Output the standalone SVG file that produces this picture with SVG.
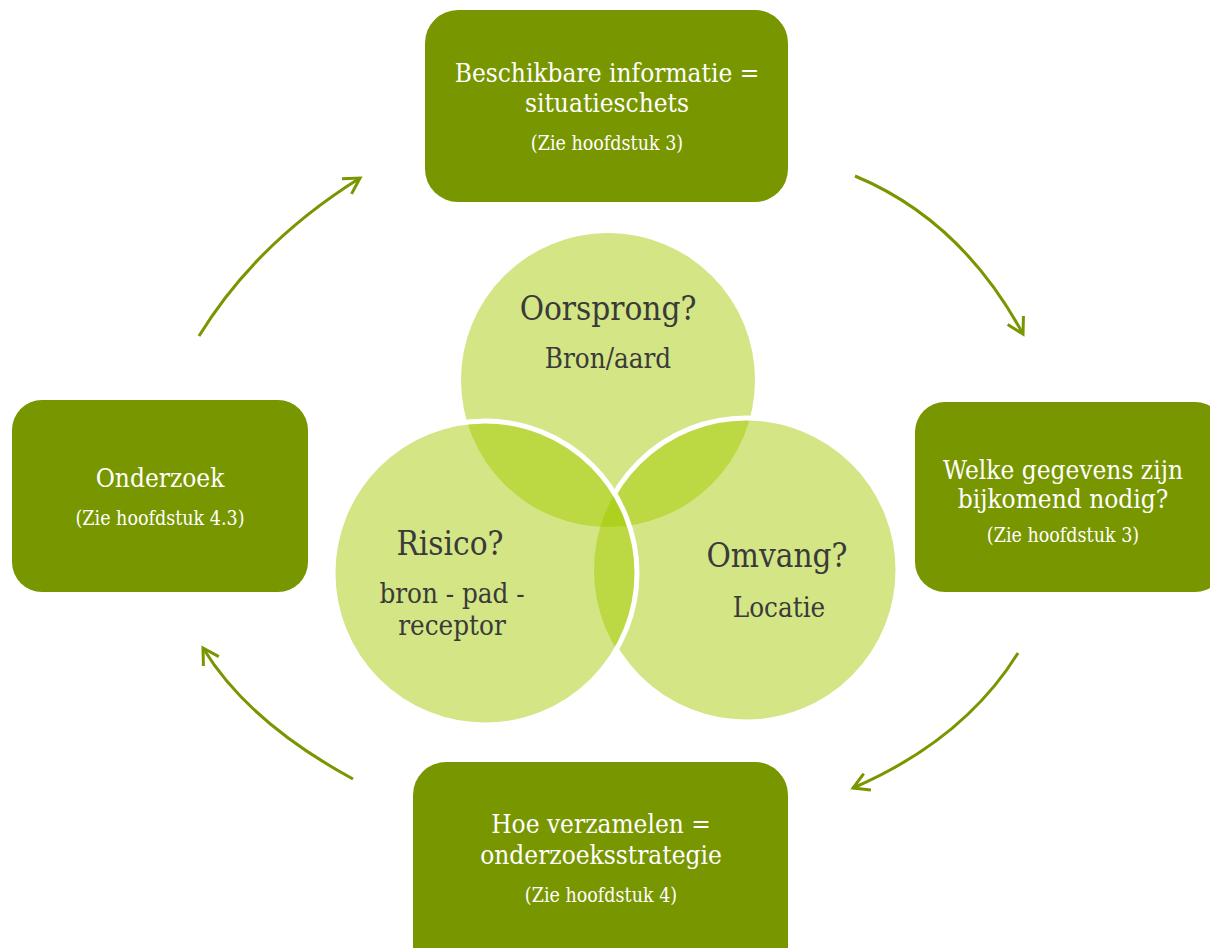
<svg xmlns="http://www.w3.org/2000/svg" width="1210" height="948" viewBox="0 0 1210 948">
  <style>
    .box { fill: #789600; }
    .bt { font-family: "DejaVu Serif Condensed", "DejaVu Serif", serif; font-stretch: condensed; fill: #ffffff; text-anchor: middle; font-size: 26px; }
    .bs { font-family: "DejaVu Serif Condensed", "DejaVu Serif", serif; font-stretch: condensed; fill: #ffffff; text-anchor: middle; font-size: 19.5px; }
    .ct { font-family: "DejaVu Serif Condensed", "DejaVu Serif", serif; font-stretch: condensed; fill: #3a3a3a; text-anchor: middle; font-size: 33px; }
    .cs { font-family: "DejaVu Serif Condensed", "DejaVu Serif", serif; font-stretch: condensed; fill: #3a3a3a; text-anchor: middle; font-size: 27.5px; }
    .light { fill: #d3e584; }
    .mid { fill: #bcd944; }
    .deep { fill: #aed11f; }
    .ring { fill: none; stroke: #ffffff; stroke-width: 5; }
    .flow { fill: none; stroke: #789600; stroke-width: 3; }
  </style>
  <defs>
    <clipPath id="clipTop"><circle cx="608" cy="380" r="147"/></clipPath>
    <clipPath id="clipLeft"><circle cx="485" cy="573" r="152"/></clipPath>
    <clipPath id="clipRight"><circle cx="746" cy="570" r="152"/></clipPath>
    <marker id="chev" markerUnits="userSpaceOnUse" markerWidth="40" markerHeight="40" refX="0" refY="0" viewBox="-20 -20 40 40" orient="auto" overflow="visible">
      <path d="M -15.6 -9 L 0 0 L -15.6 9" fill="none" stroke="#789600" stroke-width="3" stroke-linecap="butt" stroke-linejoin="miter"/>
    </marker>
  </defs>

  <!-- Venn diagram: top, right, left circles with tinted overlaps -->
  <g id="venn">
    <circle class="light" cx="608" cy="380" r="147"/>
    <circle class="light" cx="746" cy="570" r="152"/>
    <circle class="mid" cx="746" cy="570" r="152" clip-path="url(#clipTop)"/>
    <circle class="ring" cx="746" cy="570" r="152"/>
    <circle class="light" cx="485" cy="573" r="152"/>
    <circle class="mid" cx="485" cy="573" r="152" clip-path="url(#clipTop)"/>
    <circle class="mid" cx="485" cy="573" r="152" clip-path="url(#clipRight)"/>
    <g clip-path="url(#clipTop)">
      <circle class="deep" cx="485" cy="573" r="152" clip-path="url(#clipRight)"/>
    </g>
    <circle class="ring" cx="485" cy="573" r="152"/>
  </g>

  <g id="oorsprong">
    <text class="ct" x="608" y="320">Oorsprong?</text>
    <text class="cs" x="608" y="368">Bron/aard</text>
  </g>
  <g id="risico">
    <text class="ct" x="450" y="555">Risico?</text>
    <text class="cs" x="452" y="603">bron - pad -</text>
    <text class="cs" x="452" y="635">receptor</text>
  </g>
  <g id="omvang">
    <text class="ct" x="777" y="567">Omvang?</text>
    <text class="cs" x="779" y="617">Locatie</text>
  </g>

  <!-- Process boxes -->
  <g id="situatieschets">
    <rect class="box" x="425" y="10" width="363" height="192" rx="33"/>
    <text class="bt" x="607" y="82">Beschikbare informatie =</text>
    <text class="bt" x="607" y="112">situatieschets</text>
    <text class="bs" x="607" y="150">(Zie hoofdstuk 3)</text>
  </g>
  <g id="gegevens">
    <rect class="box" x="915" y="402" width="310" height="190" rx="30"/>
    <text class="bt" x="1063" y="479">Welke gegevens zijn</text>
    <text class="bt" x="1063" y="508">bijkomend nodig?</text>
    <text class="bs" x="1063" y="542">(Zie hoofdstuk 3)</text>
  </g>
  <g id="strategie">
    <rect class="box" x="413" y="762" width="375" height="220" rx="33"/>
    <text class="bt" x="601" y="833">Hoe verzamelen =</text>
    <text class="bt" x="601" y="864">onderzoeksstrategie</text>
    <text class="bs" x="601" y="902">(Zie hoofdstuk 4)</text>
  </g>
  <g id="onderzoek">
    <rect class="box" x="12" y="400" width="296" height="192" rx="30"/>
    <text class="bt" x="160" y="487">Onderzoek</text>
    <text class="bs" x="160" y="525">(Zie hoofdstuk 4.3)</text>
  </g>

  <!-- Cycle arrows -->
  <g id="connectors">
    <path class="flow" d="M 855 176 Q 961 220 1023 334" marker-end="url(#chev)"/>
    <path class="flow" d="M 1018 653 Q 964 740 853 788" marker-end="url(#chev)"/>
    <path class="flow" d="M 353 779 Q 248 722 203 648" marker-end="url(#chev)"/>
    <path class="flow" d="M 199 336 Q 256 243 360 178" marker-end="url(#chev)"/>
  </g>
</svg>
